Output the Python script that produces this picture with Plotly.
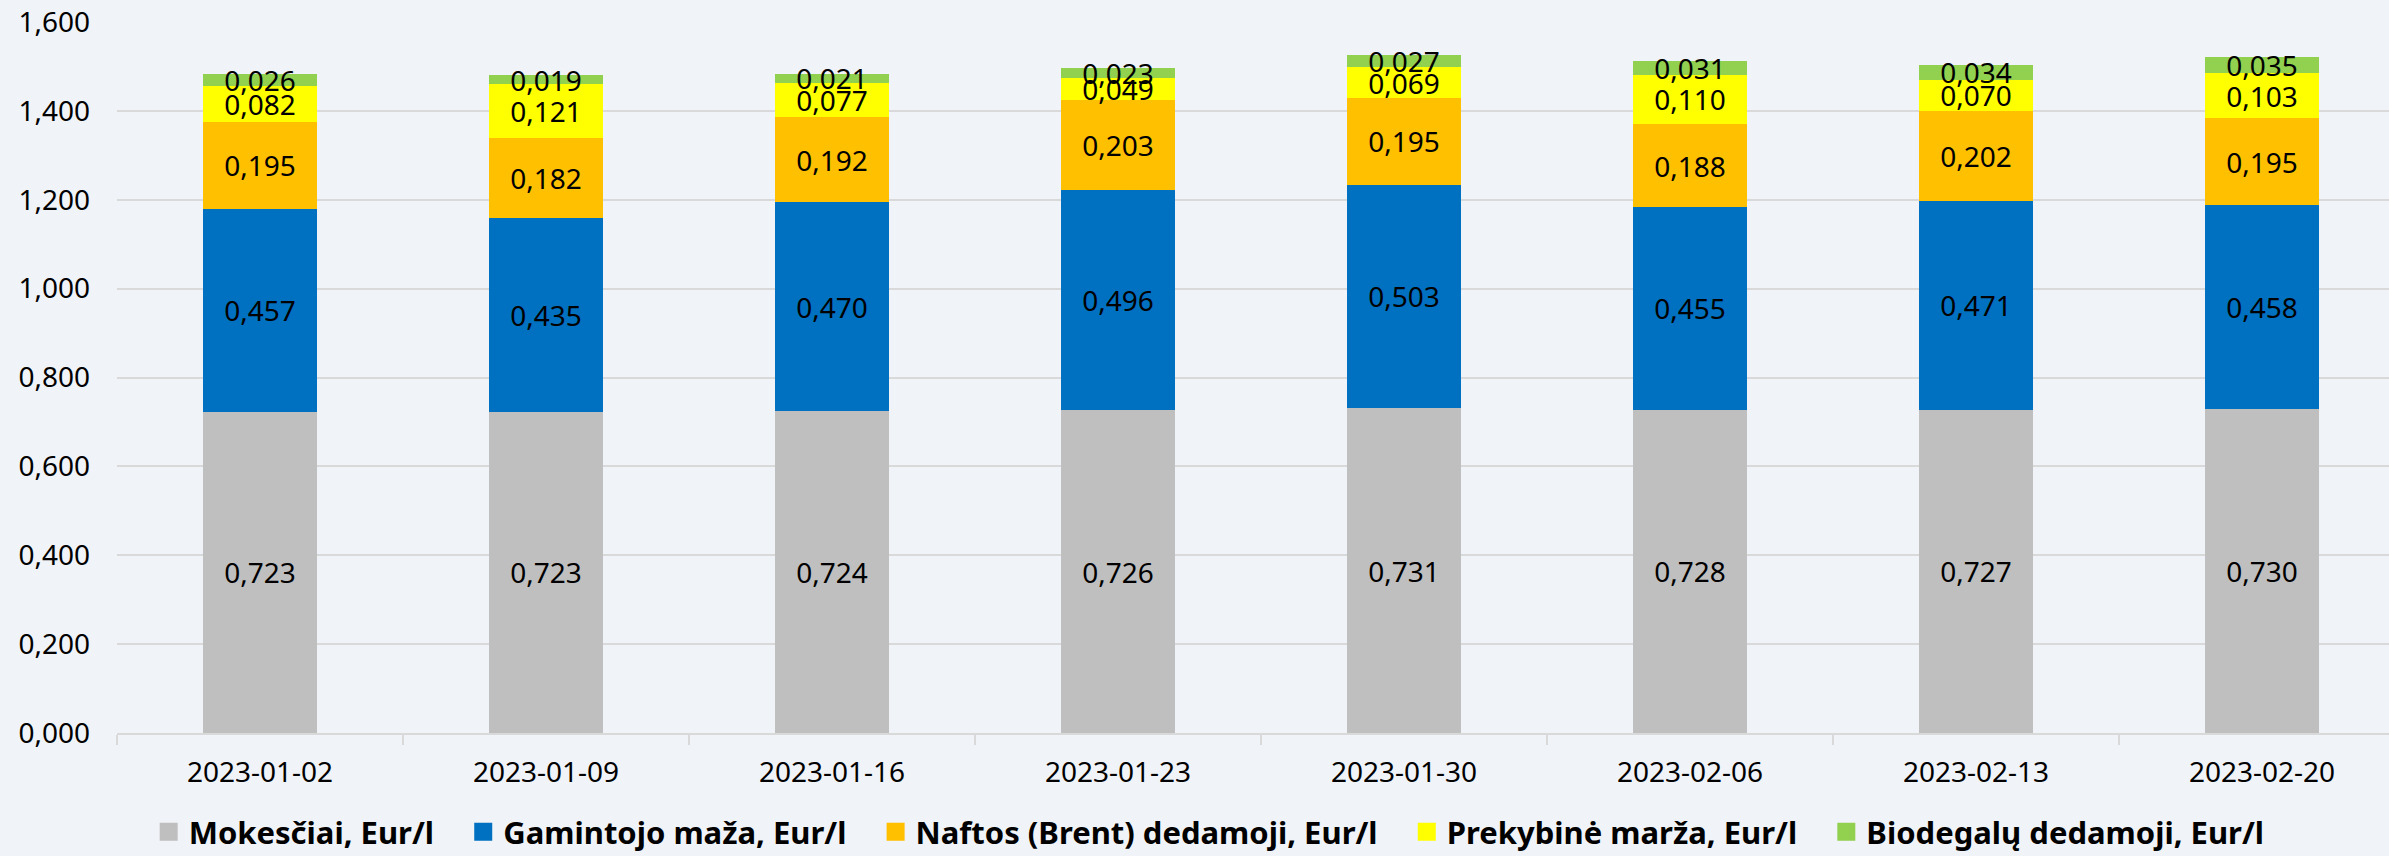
import plotly.graph_objects as go

dates = ["2023-01-02", "2023-01-09", "2023-01-16", "2023-01-23",
         "2023-01-30", "2023-02-06", "2023-02-13", "2023-02-20"]

mokesciai = [0.723, 0.723, 0.724, 0.726, 0.731, 0.728, 0.727, 0.730]
gamintojo = [0.457, 0.435, 0.470, 0.496, 0.503, 0.455, 0.471, 0.458]
naftos = [0.195, 0.182, 0.192, 0.203, 0.195, 0.188, 0.202, 0.195]
prekybine = [0.082, 0.121, 0.077, 0.049, 0.069, 0.110, 0.070, 0.103]
biodegalu = [0.026, 0.019, 0.021, 0.023, 0.027, 0.031, 0.034, 0.035]

names = ["Mokesčiai, Eur/l", "Gamintojo maža, Eur/l", "Naftos (Brent) dedamoji, Eur/l",
         "Prekybinė marža, Eur/l", "Biodegalų dedamoji, Eur/l"]
series = [mokesciai, gamintojo, naftos, prekybine, biodegalu]
colors = ["#BFBFBF", "#0070C0", "#FFC000", "#FFFF00", "#92D050"]

FONT = "Noto Sans"
fig = go.Figure()

for name, vals, col in zip(names, series, colors):
    fig.add_trace(go.Bar(
        x=dates, y=vals, name=name, marker=dict(color=col, line=dict(width=0)),
        texttemplate="%{y:.3f}", textposition="inside", insidetextanchor="middle",
        textangle=0, textfont=dict(family=FONT, size=28, color="black"),
        showlegend=False, hoverinfo="skip",
    ))

for name, col in zip(names, colors):
    fig.add_trace(go.Scatter(
        x=[None], y=[None], mode="markers", name=name + "\u00a0\u00a0\u00a0",
        marker=dict(symbol="square", size=16, color=col, line=dict(width=2, color=col)),
        showlegend=True,
    ))

fig.update_layout(
    width=2389, height=856,
    barmode="stack", bargap=0.6,
    separators=", ",
    paper_bgcolor="#F0F3F7", plot_bgcolor="#F0F3F7",
    margin=dict(l=117, r=0, t=22, b=123, pad=0, autoexpand=False),
    font=dict(family=FONT, size=28, color="black"),
    uniformtext=dict(minsize=28, mode="show"),
    legend=dict(
        orientation="h", x=0.486, xanchor="center",
        yref="container", y=1 - 832 / 856, yanchor="middle",
        font=dict(family=FONT, size=31, color="black", weight="bold"),
        traceorder="normal", bgcolor="rgba(0,0,0,0)", itemclick=False,
    ),
    xaxis=dict(
        type="category", range=[-0.5, 7.444],
        showline=True, linecolor="#D9D9D9", linewidth=2,
        ticks="outside", tickson="boundaries", ticklen=10, tickwidth=2, tickcolor="#D9D9D9",
        ticklabelstandoff=13,
        tickfont=dict(family=FONT, size=28, color="black"),
        showgrid=False, zeroline=False,
    ),
    yaxis=dict(
        range=[0, 1.6], dtick=0.2, tickformat=".3f",
        showgrid=True, gridcolor="#D9D9D9", gridwidth=2,
        zeroline=False, showline=False,
        ticklabelstandoff=26,
        tickfont=dict(family=FONT, size=28, color="black"),
    ),
)

fig.write_html("out.html", config={"displayModeBar": False},
               post_script="document.body.style.margin='0';document.body.style.overflow='hidden';")
